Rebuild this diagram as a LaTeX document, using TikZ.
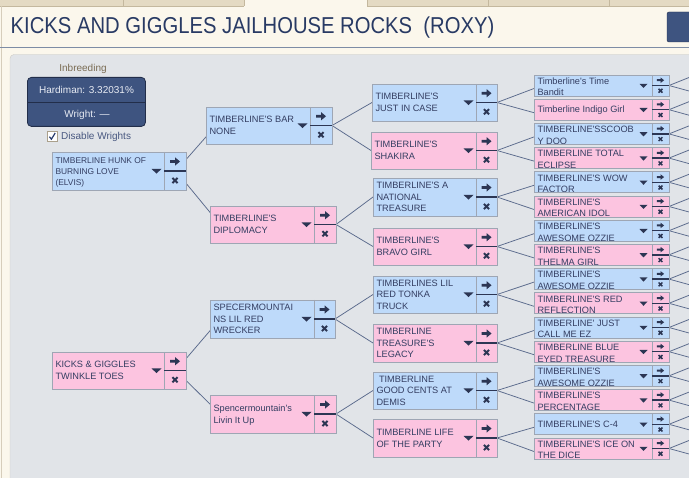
\documentclass[tikz,border=0pt]{standalone}
\usepackage{fontspec}
\setmainfont{Liberation Sans}
\newfontfamily\uifont{Liberation Sans}
\usepackage{graphicx}
\usetikzlibrary{calc}
\pgfdeclarelayer{back}
\pgfdeclarelayer{lines}
\pgfsetlayers{back,lines,main}

\definecolor{cream}{RGB}{251,247,236}
\definecolor{tabfill}{RGB}{228,218,195}
\definecolor{tabline}{RGB}{196,184,158}
\definecolor{panel}{RGB}{225,228,232}
\definecolor{panelline}{RGB}{205,203,196}
\definecolor{navy}{RGB}{62,84,128}
\definecolor{navyline}{RGB}{34,46,74}
\definecolor{titlecol}{RGB}{40,58,100}
\definecolor{rulecol}{RGB}{125,140,165}
\definecolor{bluefill}{RGB}{190,218,250}
\definecolor{pinkfill}{RGB}{252,196,224}
\definecolor{boxline}{RGB}{158,166,180}
\definecolor{txtcol}{RGB}{52,62,98}
\definecolor{iconcol}{RGB}{44,54,84}
\definecolor{conncol}{RGB}{90,106,140}
\definecolor{labelbrown}{RGB}{122,108,84}
\definecolor{inbtext}{RGB}{232,236,244}
\definecolor{chktext}{RGB}{72,88,128}
\definecolor{chkline}{RGB}{170,160,140}
\definecolor{chkmark}{RGB}{40,60,110}

\newcommand\pedfont{\uifont\fontsize{9.2}{11.7}\selectfont}

\tikzset{
  pbox/.style={draw=boxline, line width=0.8pt, inner sep=0pt, outer sep=0pt},
  bluebox/.style={fill=bluefill},
  pinkbox/.style={fill=pinkfill},
  ptext/.style={font=\pedfont, text=txtcol, align=left, inner sep=0pt, outer sep=0pt},
  sepline/.style={draw=boxline, line width=0.8pt},
  divline/.style={draw=iconcol, line width=1.3pt},
  icon/.style={fill=iconcol, draw=none},
  xmark/.style={draw=iconcol},
  conn/.style={draw=conncol, line width=0.75pt},
}

% #1 name, #2 x, #3 top, #4 width, #5 height, #6 button width, #7 fill style, #8 first baseline offset, #9 text
\newcommand{\pedbox}[9]{%
  \node[pbox,#7,minimum width=#4pt,minimum height=#5pt,anchor=north west] (#1) at (#2,#3) {};
  \draw[sepline] ($(#1.north east)+(-#6,0)$) -- ($(#1.south east)+(-#6,0)$);
  \draw[divline] ($(#1.east)+(-#6,0)$) -- (#1.east);
  \coordinate (#1-up) at ($(#1.east)+(-#6/2,-#5/4)$);
  \coordinate (#1-dn) at ($(#1.east)+(-#6/2,#5/4)$);
  \ifdim #5pt>30pt
    \coordinate (#1-tri) at ($(#1.east)+(-#6-7.5,0.3)$);
    \fill[icon,shift={(#1-up)}] (-5,-1.4) -- (0,-1.4) -- (0,-4.2) -- (5,0) -- (0,4.2) -- (0,1.4) -- (-5,1.4) -- cycle;
    \draw[xmark,line width=1.9pt,shift={(#1-dn)}] (-2.6,-2.6) -- (2.6,2.6) (-2.6,2.6) -- (2.6,-2.6);
    \fill[icon,shift={(#1-tri)}] (-5,-2.5) -- (5,-2.5) -- (0,2.4) -- cycle;
  \else
    \coordinate (#1-tri) at ($(#1.east)+(-#6-8.5,0.3)$);
    \fill[icon,shift={(#1-up)}] (-3.6,-1) -- (0,-1) -- (0,-2.8) -- (3.6,0) -- (0,2.8) -- (0,1) -- (-3.6,1) -- cycle;
    \draw[xmark,line width=1.5pt,shift={(#1-dn)}] (-1.9,-1.9) -- (1.9,1.9) (-1.9,1.9) -- (1.9,-1.9);
    \fill[icon,shift={(#1-tri)}] (-4,-2) -- (4,-2) -- (0,2.2) -- cycle;
  \fi
  \begin{scope}
    \clip ($(#1.north west)+(0.8,0.8)$) rectangle ($(#1.south east)+(-#6-0.8,-0.8)$);
    \node[ptext,anchor=north west] at ($(#1.north west)+(3.5,#8-7)$) {\rule{0pt}{7pt}#9};
  \end{scope}
}

\begin{document}
\begin{tikzpicture}[x=1pt,y=-1pt]
\useasboundingbox (0,0) rectangle (689,478);

\begin{pgfonlayer}{back}
  % window background
  \fill[cream] (0,0) rectangle (689,478);
  % tab strip
  \fill[tabfill] (0,0) rectangle (244,6);
  \fill[tabfill] (367,0) rectangle (689,6);
  \draw[tabline] (0,6) -- (244,6) (367,6) -- (689,6);
  \draw[tabline] (123,0) -- (123,6) (244,0) -- (244,6) (367,0) -- (367,6)
                 (488,0) -- (488,6) (609,0) -- (609,6);
  \draw[tabline!70] (1.5,6) -- (1.5,478);
  % title rule
  \draw[rulecol, line width=1pt] (0,47.3) -- (689,47.3);
  % top-right button
  \draw[navyline, fill=navy, rounded corners=2pt] (667,12) rectangle (695,42);
  % pedigree panel
  \draw[panelline, fill=panel, rounded corners=4pt] (10,54.5) rectangle (700,490);
\end{pgfonlayer}

% title
\node[anchor=base west, text=titlecol, inner sep=0pt] (title) at (10.5,33.3)
  {\uifont\fontsize{23}{23}\selectfont\scalebox{0.88}[1]{KICKS AND GIGGLES JAILHOUSE ROCKS\ \ (ROXY)}};

% inbreeding panel
\node[anchor=base, text=labelbrown, inner sep=0pt, font=\uifont\fontsize{10}{12}\selectfont] (inblabel) at (83,71.5) {Inbreeding};
\node[draw=navyline, fill=navy, rounded corners=4pt, line width=0.8pt, minimum width=118pt, minimum height=49pt, anchor=north west, inner sep=0pt] (inbox) at (27,77) {};
\draw[navyline, line width=1.4pt] ($(inbox.west)+(0,0.5)$) -- ($(inbox.east)+(0,0.5)$);
\node[anchor=base, text=inbtext, inner sep=0pt, font=\uifont\fontsize{10}{12}\selectfont] (hard) at (86.5,93.3) {Hardiman: 3.32031\%};
\node[anchor=base, text=inbtext, inner sep=0pt, font=\uifont\fontsize{10}{12}\selectfont] (wright) at (87,117.7) {Wright: —};
\node[draw=chkline, fill=white, minimum size=10pt, inner sep=0pt, anchor=north west] (chk) at (47,131) {};
\draw[chkmark, line width=1.2pt] ($(chk.center)+(-2.8,0.5)$) -- ($(chk.center)+(-0.8,3)$) -- ($(chk.center)+(3,-3.2)$);
\node[anchor=base west, text=chktext, inner sep=0pt, font=\uifont\fontsize{10}{12}\selectfont] (chklabel) at (61,139.5) {Disable Wrights};

% generation 1
\renewcommand\pedfont{\uifont\fontsize{8.4}{11}\selectfont}
\pedbox{E1}{52}{152}{134}{38}{22}{bluebox}{11.3}{TIMBERLINE HUNK OF\\BURNING LOVE\\(ELVIS)}
\renewcommand\pedfont{\uifont\fontsize{9.2}{11.7}\selectfont}
\pedbox{K1}{52}{352}{134}{37}{22}{pinkbox}{15.95}{KICKS \& GIGGLES\\TWINKLE TOES}

% generation 2
\pedbox{B1}{206}{107}{126}{37}{22}{bluebox}{15.95}{TIMBERLINE'S BAR\\NONE}
\pedbox{B2}{210}{206}{126}{37}{22}{pinkbox}{15.95}{TIMBERLINE'S\\DIPLOMACY}
\pedbox{B3}{210}{300}{125}{38}{21}{bluebox}{10.6}{SPECERMOUNTAI\\NS LIL RED\\WRECKER}
\pedbox{B4}{210}{395}{126}{38}{22}{pinkbox}{16.45}{Spencermountain's\\Livin It Up}

% generation 3
\pedbox{C1}{372}{84}{125}{37}{21}{bluebox}{15.95}{TIMBERLINE'S\\JUST IN CASE}
\pedbox{C2}{371}{132}{126}{37}{21}{pinkbox}{15.95}{TIMBERLINE'S\\SHAKIRA}
\pedbox{C3}{373}{178}{124}{38}{21}{bluebox}{10.6}{TIMBERLINE'S A\\NATIONAL\\TREASURE}
\pedbox{C4}{373}{228}{124}{37}{21}{pinkbox}{15.95}{TIMBERLINE'S\\BRAVO GIRL}
\pedbox{C5}{373}{276}{124}{37}{21}{bluebox}{10.1}{TIMBERLINES LIL\\RED TONKA\\TRUCK}
\pedbox{C6}{373}{324}{124}{38}{21}{pinkbox}{10.6}{TIMBERLINE\\TREASURE'S\\LEGACY}
\pedbox{C7}{373}{372}{124}{37}{21}{bluebox}{10.1}{\ TIMBERLINE\\GOOD CENTS AT\\DEMIS}
\pedbox{C8}{373}{419}{124}{38}{21}{pinkbox}{16.45}{TIMBERLINE LIFE\\OF THE PARTY}

% generation 4
\foreach \i/\f/\o/\t in {
  1/bluebox/9.3/{Timberline's Time\\Bandit},
  2/pinkbox/13.8/{Timberline Indigo Girl},
  3/bluebox/9.3/{TIMBERLINE'SSCOOB\\Y DOO},
  4/pinkbox/9.3/{TIMBERLINE TOTAL\\ECLIPSE},
  5/bluebox/9.3/{TIMBERLINE'S WOW\\FACTOR},
  6/pinkbox/9.3/{TIMBERLINE'S\\AMERICAN IDOL},
  7/bluebox/9.3/{TIMBERLINE'S\\AWESOME OZZIE},
  8/pinkbox/9.3/{TIMBERLINE'S\\THELMA GIRL},
  9/bluebox/9.3/{TIMBERLINE'S\\AWESOME OZZIE},
  10/pinkbox/9.3/{TIMBERLINE'S RED\\REFLECTION},
  11/bluebox/9.3/{TIMBERLINE' JUST\\CALL ME EZ},
  12/pinkbox/9.3/{TIMBERLINE BLUE\\EYED TREASURE},
  13/bluebox/9.3/{TIMBERLINE'S\\AWESOME OZZIE},
  14/pinkbox/9.3/{TIMBERLINE'S\\PERCENTAGE},
  15/bluebox/13.8/{TIMBERLINE'S C-4},
  16/pinkbox/9.3/{TIMBERLINE'S ICE ON\\THE DICE}}{
  \pgfmathsetmacro\ytop{75+24.2*(\i-1)}
  \pedbox{D\i}{534}{\ytop}{135}{21}{17}{\f}{\o}{\t}
}

% connectors
\begin{pgfonlayer}{lines}
  \foreach \p/\a/\b in {E1/B1/B2, K1/B3/B4}{
    \draw[conn] ($(\p.east)+(-10,0)$) -- ($(\a.west)+(10,0)$);
    \draw[conn] ($(\p.east)+(-10,0)$) -- ($(\b.west)+(10,0)$);
  }
  \foreach \p/\a/\b in {B1/C1/C2, B2/C3/C4, B3/C5/C6, B4/C7/C8}{
    \draw[conn] (\p.east) -- (\a.west);
    \draw[conn] (\p.east) -- (\b.west);
  }
  \foreach \p/\a/\b in {C1/D1/D2, C2/D3/D4, C3/D5/D6, C4/D7/D8, C5/D9/D10, C6/D11/D12, C7/D13/D14, C8/D15/D16}{
    \draw[conn] (\p.east) -- ($(\a.west)+(0,3)$);
    \draw[conn] (\p.east) -- ($(\b.west)+(0,3)$);
  }
  \foreach \i in {1,...,16}{
    \coordinate (D\i-oa) at ($(D\i.east)+(20,-8)$);
    \coordinate (D\i-ob) at ($(D\i.east)+(20,5.5)$);
    \draw[conn] (D\i.east) -- (D\i-oa);
    \draw[conn] (D\i.east) -- (D\i-ob);
  }
\end{pgfonlayer}
\end{tikzpicture}
\end{document}
